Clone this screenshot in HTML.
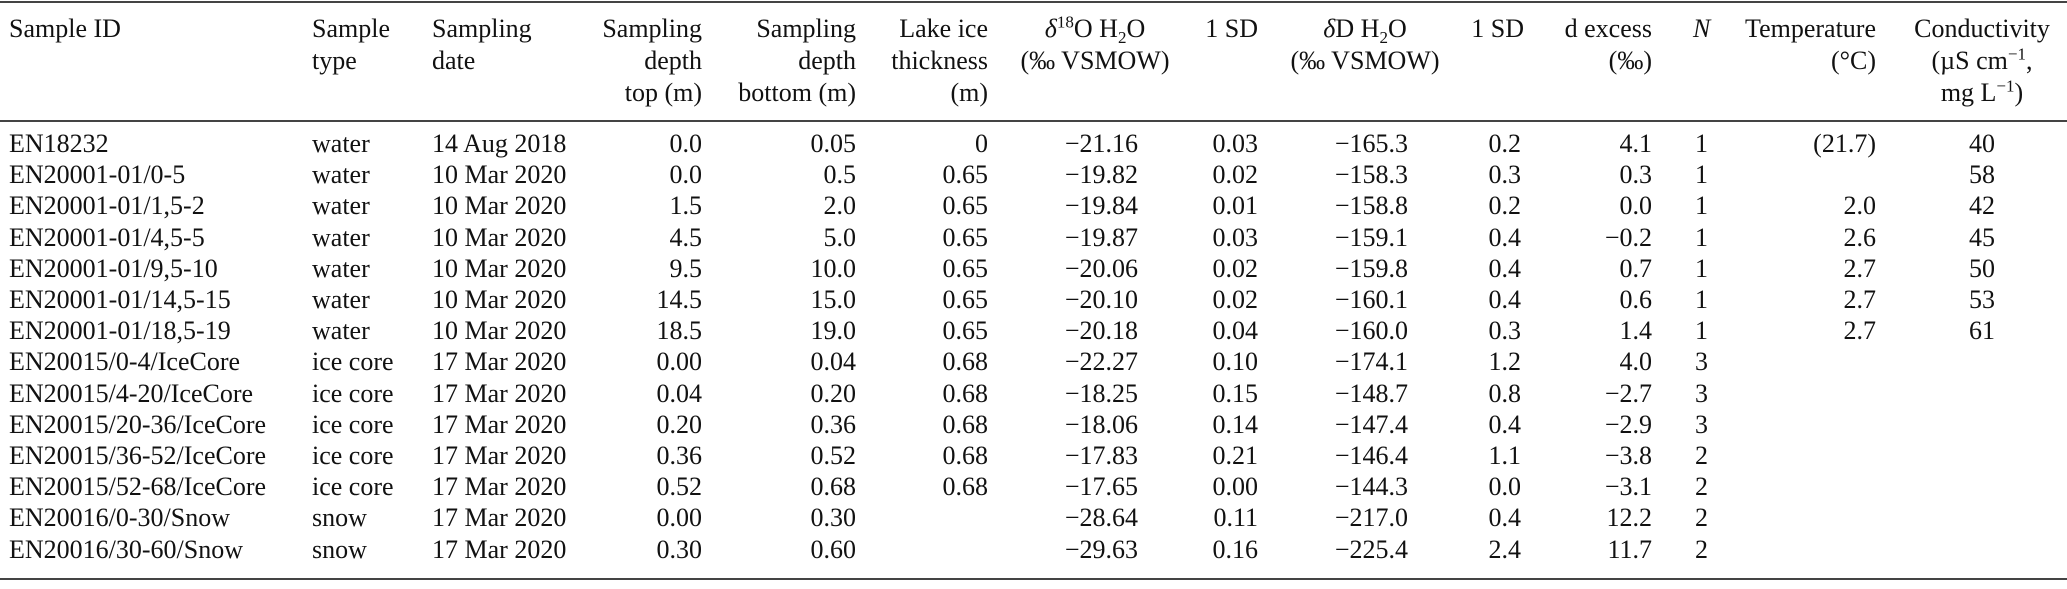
<!DOCTYPE html>
<html><head><meta charset="utf-8">
<style>
html,body{margin:0;padding:0;background:#fff;}
#t{position:relative;width:2067px;height:589px;overflow:hidden;font-family:"Liberation Serif",serif;font-size:26px;color:#111;}
.c{position:absolute;height:30px;line-height:30px;white-space:nowrap;}
.rule{position:absolute;left:0;width:2067px;height:2px;background:#444;}
sup,sub{font-size:17px;line-height:0;}
</style></head><body>
<div id="t">
<div class="rule" style="top:1px"></div>
<div class="rule" style="top:120px"></div>
<div class="rule" style="top:578px"></div>
</div>
<script>
const ids=["EN18232","EN20001-01/0-5","EN20001-01/1,5-2","EN20001-01/4,5-5","EN20001-01/9,5-10","EN20001-01/14,5-15","EN20001-01/18,5-19","EN20015/0-4/IceCore","EN20015/4-20/IceCore","EN20015/20-36/IceCore","EN20015/36-52/IceCore","EN20015/52-68/IceCore","EN20016/0-30/Snow","EN20016/30-60/Snow"];
const types=["water","water","water","water","water","water","water","ice core","ice core","ice core","ice core","ice core","snow","snow"];
const dates=["14 Aug 2018","10 Mar 2020","10 Mar 2020","10 Mar 2020","10 Mar 2020","10 Mar 2020","10 Mar 2020","17 Mar 2020","17 Mar 2020","17 Mar 2020","17 Mar 2020","17 Mar 2020","17 Mar 2020","17 Mar 2020"];
const depthTop=["0.0","0.0","1.5","4.5","9.5","14.5","18.5","0.00","0.04","0.20","0.36","0.52","0.00","0.30"];
const depthBottom=["0.05","0.5","2.0","5.0","10.0","15.0","19.0","0.04","0.20","0.36","0.52","0.68","0.30","0.60"];
const iceThick=["0","0.65","0.65","0.65","0.65","0.65","0.65","0.68","0.68","0.68","0.68","0.68","",""];
const d18O=["−21.16","−19.82","−19.84","−19.87","−20.06","−20.10","−20.18","−22.27","−18.25","−18.06","−17.83","−17.65","−28.64","−29.63"];
const sd18O=["0.03","0.02","0.01","0.03","0.02","0.02","0.04","0.10","0.15","0.14","0.21","0.00","0.11","0.16"];
const dD=["−165.3","−158.3","−158.8","−159.1","−159.8","−160.1","−160.0","−174.1","−148.7","−147.4","−146.4","−144.3","−217.0","−225.4"];
const sdD=["0.2","0.3","0.2","0.4","0.4","0.4","0.3","1.2","0.8","0.4","1.1","0.0","0.4","2.4"];
const dExcess=["4.1","0.3","0.0","−0.2","0.7","0.6","1.4","4.0","−2.7","−2.9","−3.8","−3.1","12.2","11.7"];
const nVals=["1","1","1","1","1","1","1","3","3","3","2","2","2","2"];
const temps=["(21.7)","","2.0","2.6","2.7","2.7","2.7","","","","","","",""];
const conds=["40","58","42","45","50","53","61","","","","","","",""];

const T=document.getElementById('t');
function place(html,x,al,yc,name){
  const d=document.createElement('div');
  d.className='c';
  d.innerHTML=html;
  d.style.top=(yc-15)+'px';
  if(al==='l'){d.style.left=x+'px';}
  else if(al==='r'){d.style.right=(2067-x)+'px';}
  else {d.style.left=x+'px';d.style.transform='translateX(-50%)';}
  
  
  T.appendChild(d);
}
const H=[29,61,93];
const headers=[
 [["Sample ID"],9,'l','header-sample-id'],
 [["Sample","type"],312,'l','header-sample-type'],
 [["Sampling","date"],432,'l','header-sampling-date'],
 [["Sampling","depth","top (m)"],702,'r','header-depth-top'],
 [["Sampling","depth","bottom (m)"],856,'r','header-depth-bottom'],
 [["Lake ice","thickness","(m)"],988,'r','header-ice-thickness'],
 [["<i>δ</i><sup>18</sup>O H<sub>2</sub>O","(‰ VSMOW)"],1095,'c','header-d18o'],
 [["1 SD"],1258,'r','header-sd-d18o'],
 [["<i>δ</i>D H<sub>2</sub>O","(‰ VSMOW)"],1365,'c','header-dd'],
 [["1 SD"],1524,'r','header-sd-dd'],
 [["d excess","(‰)"],1652,'r','header-d-excess'],
 [["<i>N</i>"],1693,'l','header-n'],
 [["Temperature","(°C)"],1876,'r','header-temperature'],
 [["Conductivity","(µS cm<sup>−1</sup>,","mg L<sup>−1</sup>)"],1982,'c','header-conductivity']
];
headers.forEach(h=>{h[0].forEach((s,i)=>place(s,h[1],h[2],H[i],h[3]));});

const cols=[
 [ids,9,'l','sample-id-cell'],
 [types,312,'l','sample-type-cell'],
 [dates,432,'l','sampling-date-cell'],
 [depthTop,702,'r','depth-top-cell'],
 [depthBottom,856,'r','depth-bottom-cell'],
 [iceThick,988,'r','ice-thickness-cell'],
 [d18O,1138,'r','d18o-cell'],
 [sd18O,1258,'r','sd-d18o-cell'],
 [dD,1408,'r','dd-cell'],
 [sdD,1521,'r','sd-dd-cell'],
 [dExcess,1652,'r','d-excess-cell'],
 [nVals,1695,'l','n-cell'],
 [temps,1876,'r','temperature-cell'],
 [conds,1982,'c','conductivity-cell']
];
cols.forEach(c=>{c[0].forEach((v,i)=>{ if(v!=='') place(v,c[1],c[2],144+i*31.2,c[3]); });});
</script>
</body></html>
